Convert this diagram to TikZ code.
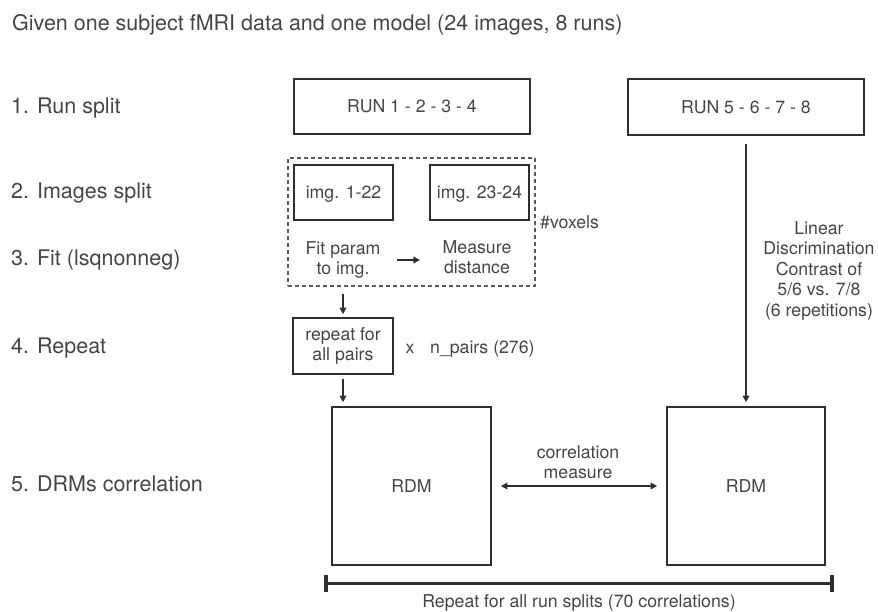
\documentclass[tikz,border=0pt]{standalone}
\usepackage{fontspec}
\setmainfont{TeX Gyre Heros}
\usetikzlibrary{arrows.meta}
\definecolor{ink}{HTML}{2E2E2E}
\definecolor{txt}{HTML}{454545}
\definecolor{dashc}{HTML}{5A5A5A}

\begin{document}
\begin{tikzpicture}[x=1pt,y=-1pt,
  lbl/.style={anchor=base west, inner sep=0pt, font=\fontsize{21.5}{26}\selectfont, text=txt},
  body/.style={inner sep=0pt, font=\fontsize{17.7}{20.5}\selectfont, text=txt, align=center},
  box/.style={body, draw=ink, line width=1.6pt},
  capbox/.style={box, text height=12.7pt, text depth=0pt},
  arr/.style={draw=ink, line width=1.5pt, -{Triangle[length=6.5pt,width=6.5pt]}},
  twoarr/.style={draw=ink, line width=1.5pt, {Triangle[length=6.5pt,width=6.5pt]}-{Triangle[length=6.5pt,width=6.5pt]}},
  groupbox/.style={draw=dashc, line width=1.1pt, dash pattern=on 4pt off 3pt}
]
\useasboundingbox (0,0) rectangle (878,611);

% step labels
\node[lbl] (title) at (12,30) {Given one subject fMRI data and one model (24 images, 8 runs)};
\node[lbl] (l1) at (11,113) {1. Run split};
\node[lbl] (l2) at (11,198) {2. Images split};
\node[lbl] (l3) at (11,265) {3. Fit (lsqnonneg)};
\node[lbl] (l4) at (11,353) {4. Repeat};
\node[lbl] (l5) at (11,491) {5. DRMs correlation};

% run split
\node[capbox, minimum width=236pt, minimum height=55pt] (runA) at (412,106.5) {RUN 1 - 2 - 3 - 4};
\node[capbox, minimum width=236pt, minimum height=56pt] (runB) at (746,107) {RUN 5 - 6 - 7 - 8};

% image split and fit
\node[groupbox, minimum width=247pt, minimum height=128pt] (fitbox) at (411.5,222) {};
\node[capbox, minimum width=99pt, minimum height=55pt] (imgA) at (343.5,192.5) {img. 1-22};
\node[capbox, minimum width=99pt, minimum height=55pt] (imgB) at (479.5,192.5) {img. 23-24};
\node[body] (fit) at (343,260) {Fit param\\to img.};
\node[body] (meas) at (477,257) {Measure\\distance};
\node[body, anchor=base west] (vox) at (540,228) {\#voxels};

% repetition over pairs
\node[box, minimum width=100pt, minimum height=56pt] (rep) at (343,346) {repeat for\\all pairs};
\node[body, anchor=base] (times) at (410,353) {x};
\node[body, anchor=base west] (npairs) at (430,353) {n\_pairs (276)};

% RDMs
\node[capbox, minimum width=159pt, minimum height=158pt] (rdmA) at (411.5,486) {RDM};
\node[capbox, minimum width=158pt, minimum height=158pt] (rdmB) at (746,486) {RDM};
\node[body] (corr) at (578,462) {correlation\\measure};
\node[body] (lda) at (819,270.5) {Linear\\Discrimination\\Contrast of\\5/6 vs. 7/8\\(6 repetitions)};

% overall repetition bar
\coordinate (barL) at (326,583);
\coordinate (barR) at (832,583);
\node[body, anchor=base] (rep70) at (579,607.3) {Repeat for all run splits (70 correlations)};

% connectors
\draw[arr, shorten <=16.5pt, shorten >=22.5pt] (fit.east) -- (fit.east -| meas.west);
\draw[arr, shorten <=7pt, shorten >=3pt] (fitbox.south -| rep.north) -- (rep.north);
\draw[arr, shorten <=4pt, shorten >=4pt] (rep.south) -- (rep.south |- rdmA.north);
\draw[arr, shorten <=8pt, shorten >=4pt] (runB.south) -- (rdmB.north);
\draw[twoarr, shorten <=9pt, shorten >=9pt] (rdmA.east) -- (rdmB.west);

\draw[ink, line width=3pt] (barL) -- (barR);
\draw[ink, line width=3.5pt] ([yshift=-8.5pt]barL) -- ([yshift=8.5pt]barL);
\draw[ink, line width=3.5pt] ([yshift=-8.5pt]barR) -- ([yshift=8.5pt]barR);
\end{tikzpicture}
\end{document}
